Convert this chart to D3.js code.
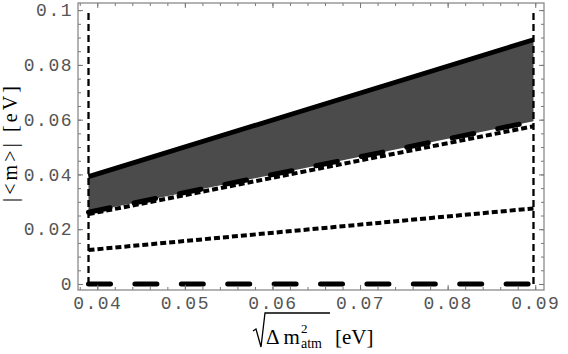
<!DOCTYPE html>
<html>
<meta charset="utf-8">
<head>
    <script src="https://d3js.org/d3.v7.min.js"></script>
    <style>
        body { margin: 0; background: #fff; }
    </style>
</head>
<body>
    <div id="my_dataviz"></div>
</body>

<script>
    // values
    const xTicks = [0.04, 0.05, 0.06, 0.07, 0.08, 0.09];
    const xTickLabels = ["0.04", "0.05", "0.06", "0.07", "0.08", "0.09"];
    const yTicks = [0, 0.02, 0.04, 0.06, 0.08, 0.1];
    const yTickLabels = ["0", "0.02", "0.04", "0.06", "0.08", "0.1"];

    const xEnds = [0.039, 0.0898];          // sqrt(dm2 atm) range (vertical dashed lines)
    const upperBound = [0.0392, 0.0892];    // solid thick line
    const lowerBound = [0.0262, 0.0594];    // long dashed line, bottom of band
    const dottedHigh = [0.0255, 0.0576];
    const dottedLow = [0.0124, 0.0276];
    const zeroLine = [0, 0];
    const verticalSpan = [0, 0.1];

    const margin = { top: 3, right: 24, bottom: 64, left: 78 },
        width = 568 - margin.left - margin.right,
        height = 354 - margin.top - margin.bottom;

    const svg = d3.select("#my_dataviz")
        .append("svg")
            .attr("width", width + margin.left + margin.right)
            .attr("height", height + margin.top + margin.bottom)
        .append("g")
            .attr("transform", `translate(${margin.left}, ${margin.top})`);

    const x = d3.scaleLinear()
        .domain([0.0378, 0.0910])
        .range([0, width]);

    const y = d3.scaleLinear()
        .domain([-0.0022, 0.1026])
        .range([height, 0]);

    // shaded band
    const band = xEnds.map((d, i) => ({ x: d, hi: upperBound[i], lo: lowerBound[i] }));
    svg.append("path")
        .datum(band)
        .attr("fill", "#4b4b4b")
        .attr("d", d3.area().x(d => x(d.x)).y0(d => y(d.lo)).y1(d => y(d.hi)));

    const line = d3.line().x(d => x(d[0])).y(d => y(d[1]));
    const pts = vals => xEnds.map((d, i) => [d, vals[i]]);

    // vertical dashed lines
    xEnds.forEach(xv => {
        svg.append("path")
            .datum(verticalSpan.map(v => [xv, v]))
            .attr("d", line)
            .attr("fill", "none")
            .attr("stroke", "#000")
            .attr("stroke-width", 2.3)
            .attr("stroke-dasharray", "7,4");
    });

    // zero line (long dashes)
    svg.append("path")
        .datum(pts(zeroLine))
        .attr("d", line)
        .attr("fill", "none")
        .attr("stroke", "#000")
        .attr("stroke-width", 5)
        .attr("stroke-linecap", "round")
        .attr("stroke-dasharray", "22,24.4");

    // lower dotted
    svg.append("path")
        .datum(pts(dottedLow))
        .attr("d", line)
        .attr("fill", "none")
        .attr("stroke", "#000")
        .attr("stroke-width", 4)
        .attr("stroke-dasharray", "6,3");

    // band bottom long dashes
    svg.append("path")
        .datum(pts(lowerBound))
        .attr("d", line)
        .attr("fill", "none")
        .attr("stroke", "#000")
        .attr("stroke-width", 5)
        .attr("stroke-linecap", "round")
        .attr("stroke-dasharray", "22,24.4");

    // upper dotted
    svg.append("path")
        .datum(pts(dottedHigh))
        .attr("d", line)
        .attr("fill", "none")
        .attr("stroke", "#000")
        .attr("stroke-width", 4)
        .attr("stroke-dasharray", "6,3");

    // upper solid
    svg.append("path")
        .datum(pts(upperBound))
        .attr("d", line)
        .attr("fill", "none")
        .attr("stroke", "#000")
        .attr("stroke-width", 4.8);

    // axes, ticks pointing inwards
    const xMinor = d3.range(19, 46).map(i => i * 0.002);
    const yMinor = d3.range(0, 21).map(i => i * 0.005);

    function styleAxis(g) {
        g.select(".domain").remove();
        g.selectAll("line").attr("stroke", "#777");
        g.selectAll("text")
            .attr("fill", "#555")
            .style("font-family", "'Liberation Mono', monospace")
            .style("font-size", "18px")
            .style("letter-spacing", "1.5px");
    }

    svg.append("g")
        .attr("transform", `translate(0, ${height})`)
        .call(d3.axisBottom(x).tickValues(xMinor).tickFormat("").tickSizeInner(-3).tickSizeOuter(0))
        .call(styleAxis);
    svg.append("g")
        .attr("transform", `translate(0, ${height})`)
        .call(d3.axisBottom(x).tickValues(xTicks).tickFormat((d, i) => xTickLabels[i])
            .tickSizeInner(-5).tickSizeOuter(0).tickPadding(6))
        .call(styleAxis);
    svg.append("g")
        .call(d3.axisTop(x).tickValues(xMinor).tickFormat("").tickSizeInner(-3).tickSizeOuter(0))
        .call(styleAxis);
    svg.append("g")
        .call(d3.axisTop(x).tickValues(xTicks).tickFormat("").tickSizeInner(-5).tickSizeOuter(0))
        .call(styleAxis);

    svg.append("g")
        .call(d3.axisLeft(y).tickValues(yMinor).tickFormat("").tickSizeInner(-3).tickSizeOuter(0))
        .call(styleAxis);
    svg.append("g")
        .call(d3.axisLeft(y).tickValues(yTicks).tickFormat((d, i) => yTickLabels[i])
            .tickSizeInner(-5).tickSizeOuter(0).tickPadding(5))
        .call(styleAxis);
    svg.append("g")
        .attr("transform", `translate(${width}, 0)`)
        .call(d3.axisRight(y).tickValues(yMinor).tickFormat("").tickSizeInner(-3).tickSizeOuter(0))
        .call(styleAxis);
    svg.append("g")
        .attr("transform", `translate(${width}, 0)`)
        .call(d3.axisRight(y).tickValues(yTicks).tickFormat("").tickSizeInner(-5).tickSizeOuter(0))
        .call(styleAxis);

    // frame
    svg.append("rect")
        .attr("x", 0).attr("y", 0)
        .attr("width", width).attr("height", height)
        .attr("fill", "none")
        .attr("stroke", "#808080")
        .attr("stroke-width", 1.2);

    // y label
    svg.append("text")
        .attr("transform", `translate(${17 - margin.left}, ${144 - margin.top}) rotate(-90)`)
        .attr("text-anchor", "middle")
        .attr("textLength", 116)
        .attr("lengthAdjust", "spacing")
        .style("font-family", "'Liberation Serif', serif")
        .style("font-size", "20px")
        .text("|<m>| [eV]");

    // x label: sqrt(Δ m²_atm) [eV]
    const serif = "'Liberation Serif', serif";
    const xl = svg.append("g")
        .attr("transform", `translate(${253 - margin.left}, ${344 - margin.top})`);
    xl.append("path")
        .attr("d", "M0,-13 L3,-15 L8,3 L12,-31 L77,-31")
        .attr("fill", "none")
        .attr("stroke", "#000")
        .attr("stroke-width", 1.3);
    const main = xl.append("text")
        .attr("x", 13)
        .style("font-family", serif)
        .style("font-size", "21px")
        .text("Δ m");
    const mEnd = 13 + main.node().getComputedTextLength() + 1;
    xl.append("text")
        .attr("x", mEnd).attr("y", -11)
        .style("font-family", serif)
        .style("font-size", "13px")
        .text("2");
    xl.append("text")
        .attr("x", mEnd).attr("y", 4)
        .style("font-family", serif)
        .style("font-size", "14px")
        .text("atm");
    xl.append("text")
        .attr("x", 82)
        .style("font-family", serif)
        .style("font-size", "21px")
        .text("[eV]");
</script>
</html>
